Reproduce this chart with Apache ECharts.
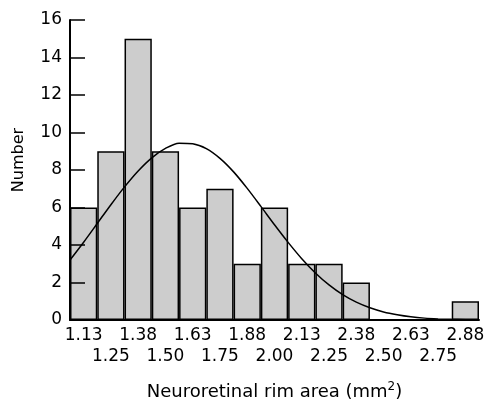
<!DOCTYPE html>
<html><head><meta charset="utf-8">
<script src="https://cdn.jsdelivr.net/npm/echarts@6/dist/echarts.min.js"></script>
<style>html,body{margin:0;padding:0;background:#fff}#c{width:486px;height:403px}</style>
</head><body><div id="c"></div>
<script>
const categories = ['1.13','1.25','1.38','1.50','1.63','1.75','1.88','2.00','2.13','2.25','2.38','2.50','2.63','2.75','2.88'];
const counts = [6,9,15,9,6,7,3,6,3,3,2,0,0,0,1];
const yTicks = [0,2,4,6,8,10,12,14,16];
// fitted curve: [rim area, number]
const curveX = [1.0675,1.13,1.1925,1.255,1.3175,1.38,1.4425,1.505,1.5675,1.63,1.6925,1.755,1.8175,1.88,1.9425,2.005,2.0675,2.13,2.1925,2.255,2.3175,2.38,2.4425,2.505,2.5675,2.63,2.6925,2.755,2.8175,2.88];
const curveY = [3.2,4.15,5.15,6.15,7.1,7.95,8.65,9.15,9.43,9.4,9.14,8.62,7.9,7.02,6.06,5.08,4.14,3.27,2.51,1.87,1.35,0.95,0.65,0.43,0.28,0.17,0.1,0.06,0.035,0.02];
const curve = curveX.map((x,i)=>[x,curveY[i]]);
const FONT = 'DejaVu Sans';
const chart = echarts.init(document.getElementById('c'));
chart.setOption({
  animation:false,
  grid:{left:70,right:7,top:20,bottom:83,containLabel:false,outerBoundsMode:'none'},
  xAxis:[{
    type:'category', data:categories, boundaryGap:true, z:10,
    axisLine:{lineStyle:{color:'#000',width:2}},
    axisTick:{inside:true,length:9,alignWithLabel:true,lineStyle:{color:'#000',width:1.5}},
    axisLabel:{interval:0,margin:5,fontFamily:FONT,fontSize:17,color:'#000',lineHeight:21,
      formatter:(v,i)=> i%2 ? '\n'+v : v},
    name:'{a|Neuroretinal rim area (mm}{s|2}{a|)}', nameLocation:'middle', nameGap:61,
    nameTextStyle:{rich:{a:{fontFamily:FONT,fontSize:18,color:'#000'},s:{fontFamily:FONT,fontSize:12,color:'#000',verticalAlign:'top',padding:[0,0,10,0]}}}
  },{
    type:'value', min:1.0675, max:2.9425, show:false
  }],
  yAxis:{
    type:'value', min:0, max:16, interval:2, z:10,
    axisLine:{show:true,lineStyle:{color:'#000',width:2}},
    axisTick:{show:true,inside:true,length:15,lineStyle:{color:'#000',width:1.5}},
    splitLine:{show:false},
    axisLabel:{margin:8,fontFamily:FONT,fontSize:17,color:'#000',
      formatter:v=> yTicks.includes(v)? String(v):''}
  },
  graphic:[{
    type:'text', x:19, y:160, rotation:Math.PI/2,
    style:{text:'Number', fontFamily:FONT, fontSize:16, fill:'#000', align:'center', verticalAlign:'middle'}
  }],
  series:[{
    type:'bar', data:counts, barCategoryGap:0, xAxisIndex:0,
    itemStyle:{color:'#cdcdcd',borderColor:'#000',borderWidth:1.5}
  },{
    type:'line', data:curve, xAxisIndex:1, smooth:0.3, symbol:'none',
    lineStyle:{color:'#000',width:1.5}, z:5
  }]
});
</script></body></html>
